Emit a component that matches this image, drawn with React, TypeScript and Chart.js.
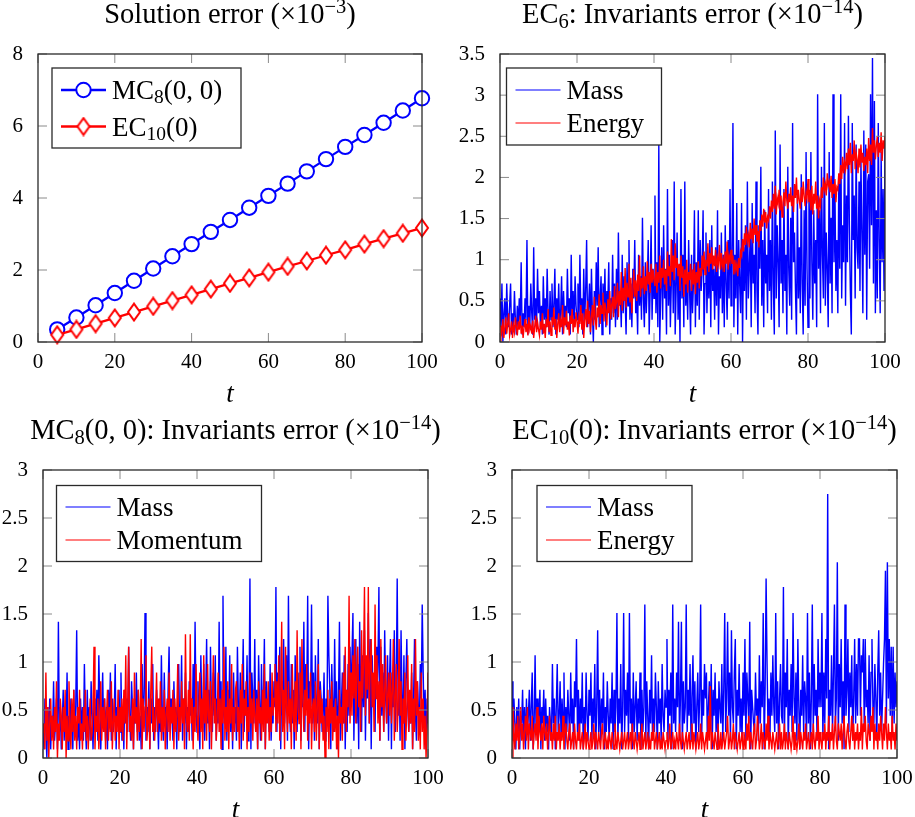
import React, { useEffect, useRef } from 'react';
import { Chart, registerables } from 'chart.js';

Chart.register(...registerables);

const W = 915;
const H = 817;
const FONT = '"Liberation Serif", "Times New Roman", serif';
const BLUE = '#0000ff';
const RED = '#ff0000';

// ---------- Panel 1: solution error ----------
const solT = [5, 10, 15, 20, 25, 30, 35, 40, 45, 50, 55, 60, 65, 70, 75, 80, 85, 90, 95, 100];
const mc8Err = [0.35, 0.68, 1.02, 1.36, 1.70, 2.04, 2.38, 2.72, 3.06, 3.39, 3.73, 4.06, 4.40, 4.74, 5.08, 5.42, 5.75, 6.09, 6.43, 6.77];
const ec10Err = [0.20, 0.35, 0.51, 0.67, 0.83, 0.99, 1.15, 1.31, 1.47, 1.63, 1.78, 1.94, 2.10, 2.25, 2.41, 2.56, 2.72, 2.87, 3.02, 3.17];

// ---------- invariants errors, sampled every STEP in t (0..100) ----------
const STEP = 0.25;

const ec6Mass = [
  0.53, 0.18, 0.71, 0.00, 0.35, 0.53, 0.09, 0.71, 0.27, 0.18, 0.44, 0.71, 0.09, 0.35, 0.18, 0.62, 0.27, 0.09, 0.44, 0.18,
  0.53, 0.27, 0.97, 0.09, 0.35, 0.18, 0.53, 0.27, 1.24, 0.09, 0.44, 0.18, 0.71, 0.35, 0.09, 1.15, 0.27, 0.53, 0.18, 0.89, 0.35,
  0.62, 0.18, 0.44, 0.09, 0.80, 0.27, 0.53, 0.18, 0.89, 0.35, 0.09, 0.62, 0.27, 0.71, 0.18, 0.44, 0.89, 0.09, 0.53, 0.27,
  0.71, 0.18, 0.35, 0.80, 0.09, 0.62, 0.27, 0.44, 0.18, 0.89, 0.35, 0.53, 0.09, 1.06, 0.27, 0.62, 0.18, 0.80, 0.44, 0.27,
  0.71, 0.18, 1.06, 0.35, 0.53, 0.09, 0.89, 0.27, 0.62, 1.24, 0.18, 0.44, 0.71, 0.09, 0.89, 0.35, 0.00, 0.62, 0.27, 0.97,
  0.44, 1.15, 0.18, 0.53, 0.80, 0.09, 0.71, 0.35, 0.89, 0.18, 0.62, 0.44, 0.97, 0.09, 0.53, 0.27, 1.06, 0.35, 0.71, 0.18,
  0.89, 0.27, 1.33, 0.44, 0.62, 0.18, 1.06, 0.35, 0.80, 0.53, 0.09, 0.97, 0.44, 1.24, 0.27, 0.71, 0.18, 0.89, 0.53, 1.24,
  0.35, 0.62, 0.09, 1.06, 0.44, 0.80, 0.27, 1.51, 0.53, 0.18, 0.97, 0.35, 0.71, 1.24, 0.09, 0.62, 1.42, 0.27, 0.89, 0.53,
  1.78, 0.35, 0.97, 0.18, 2.40, 0.00, 0.62, 1.15, 0.27, 1.42, 0.53, 0.89, 0.09, 1.86, 0.44, 1.06, 0.18, 0.71, 1.24, 0.35,
  1.95, 0.09, 0.62, 1.33, 0.27, 0.89, 0.00, 1.86, 0.53, 1.06, 0.18, 1.95, 0.44, 0.80, 0.27, 1.24, 0.62, 0.09, 1.06, 0.35,
  0.71, 1.60, 0.18, 0.97, 0.44, 1.60, 0.27, 1.24, 0.62, 0.89, 1.60, 0.09, 0.71, 1.33, 0.35, 0.97, 0.53, 1.24, 0.18, 1.42,
  0.62, 0.89, 0.27, 1.15, 0.44, 1.60, 0.09, 0.80, 0.53, 1.33, 0.35, 1.06, 0.18, 1.42, 0.71, 0.27, 1.24, 0.53, 1.86, 0.44,
  0.97, 2.66, 0.18, 1.06, 0.53, 1.69, 0.09, 1.24, 0.71, 0.35, 1.69, 0.00, 1.15, 0.62, 1.42, 0.27, 1.95, 0.53, 0.89, 1.33,
  0.18, 1.69, 0.71, 1.06, 0.35, 1.95, 0.62, 0.09, 1.42, 0.89, 2.13, 0.44, 1.24, 0.18, 1.60, 0.71, 1.06, 0.35, 1.86, 0.62,
  1.24, 0.27, 1.95, 0.71, 0.09, 2.57, 0.53, 1.42, 0.97, 0.18, 2.40, 0.71, 1.24, 0.35, 1.86, 0.62, 1.06, 0.09, 2.13, 0.89,
  0.44, 1.51, 0.27, 2.66, 0.97, 1.33, 0.62, 0.09, 1.78, 0.53, 1.15, 0.35, 2.04, 0.71, 0.09, 1.60, 0.44, 2.31, 0.89, 0.18,
  1.78, 0.53, 2.31, 0.97, 0.27, 1.60, 0.71, 1.24, 0.18, 3.01, 0.89, 1.60, 0.35, 2.13, 1.06, 0.53, 2.66, 0.44, 1.33, 0.89,
  0.18, 2.31, 0.71, 1.51, 0.35, 3.01, 0.97, 1.86, 0.62, 1.24, 0.35, 2.04, 0.89, 3.01, 0.53, 1.42, 0.97, 2.66, 0.44, 1.78,
  0.97, 2.75, 1.42, 0.62, 0.09, 2.66, 1.24, 1.78, 0.53, 2.40, 1.15, 0.89, 1.95, 0.62, 2.22, 1.33, 0.35, 2.57, 1.06, 2.40,
  0.27, 1.95, 2.04, 0.89, 3.01, 1.42, 3.45, 0.71, 2.93, 0.35, 1.60, 0.53, 2.66, 1.24, 0.35, 2.31, 0.97, 1.86, 0.62, 2.40,
];
const ec6Energy = [
  0.00, 0.20, 0.12, 0.28, 0.05, 0.18, 0.30, 0.10, 0.22, 0.35, 0.08, 0.15, 0.25, 0.05, 0.20, 0.12, 0.30, 0.18, 0.08, 0.25,
  0.15, 0.32, 0.10, 0.20, 0.05, 0.18, 0.28, 0.12, 0.22, 0.08, 0.30, 0.15, 0.20, 0.10, 0.26, 0.05, 0.18, 0.32, 0.12, 0.24, 0.15,
  0.08, 0.25, 0.15, 0.35, 0.10, 0.22, 0.05, 0.28, 0.18, 0.40, 0.12, 0.25, 0.08, 0.30, 0.20, 0.42, 0.15, 0.28, 0.05, 0.22,
  0.35, 0.12, 0.26, 0.18, 0.45, 0.10, 0.30, 0.20, 0.38, 0.15, 0.25, 0.08, 0.32, 0.22, 0.40, 0.12, 0.28, 0.18, 0.36, 0.25,
  0.10, 0.30, 0.22, 0.45, 0.15, 0.35, 0.05, 0.28, 0.40, 0.18, 0.50, 0.22, 0.38, 0.12, 0.30, 0.45, 0.20, 0.55, 0.28, 0.15,
  0.42, 0.30, 0.58, 0.22, 0.45, 0.35, 0.60, 0.25, 0.48, 0.38, 0.20, 0.52, 0.35, 0.62, 0.28, 0.45, 0.55, 0.30, 0.68, 0.40,
  0.48, 0.72, 0.30, 0.62, 0.45, 0.85, 0.38, 0.66, 0.50, 0.90, 0.42, 0.72, 0.55, 0.95, 0.48, 0.78, 0.35, 0.62, 0.88, 0.55,
  0.75, 0.50, 0.82, 0.62, 1.05, 0.55, 0.78, 0.65, 0.92, 0.58, 0.80, 0.62, 0.98, 0.70, 0.85, 0.60, 0.95, 0.72, 0.88, 0.75,
  0.68, 0.95, 0.60, 0.85, 0.72, 1.05, 0.65, 0.90, 0.78, 1.00, 0.70, 0.88, 0.62, 1.10, 0.80, 0.92, 0.68, 1.25, 0.85, 1.05,
  0.75, 1.20, 0.90, 1.02, 0.80, 0.95, 0.62, 1.05, 0.78, 0.92, 0.55, 0.88, 0.70, 1.00, 0.60, 0.85, 0.75, 0.95, 0.62, 0.88,
  0.70, 0.95, 0.58, 0.85, 0.72, 0.98, 0.65, 0.90, 0.80, 1.05, 0.88, 1.10, 0.82, 1.00, 0.92, 1.20, 0.85, 1.08, 0.95, 1.15,
  0.88, 1.05, 0.92, 1.12, 0.85, 1.02, 0.95, 1.18, 0.88, 1.08, 0.92, 1.00, 0.85, 1.10, 0.95, 1.22, 0.88, 1.05, 0.98, 1.12,
  0.95, 1.05, 0.82, 1.00, 0.88, 0.95, 0.80, 1.02, 0.90, 1.10, 1.05, 1.25, 1.10, 1.32, 1.18, 1.40, 1.22, 1.30, 1.15, 1.45,
  1.25, 1.38, 1.20, 1.50, 1.30, 1.42, 1.22, 1.35, 1.15, 1.48, 1.35, 1.55, 1.40, 1.62, 1.45, 1.58, 1.38, 1.52, 1.48, 1.65,
  1.50, 1.72, 1.58, 1.80, 1.62, 1.90, 1.55, 1.75, 1.68, 1.85, 1.60, 1.78, 1.52, 1.70, 1.82, 1.65, 1.95, 1.72, 1.62, 1.80,
  1.70, 1.88, 1.65, 1.78, 1.58, 1.92, 1.75, 2.00, 1.68, 1.85, 1.72, 1.62, 1.88, 1.70, 1.95, 1.78, 1.65, 1.82, 1.75, 1.98,
  1.70, 1.85, 1.60, 1.90, 1.55, 1.80, 1.68, 1.95, 1.62, 1.78, 1.50, 1.72, 1.65, 1.88, 1.75, 2.00, 1.85, 1.92, 1.78, 2.05,
  1.90, 1.95, 1.82, 2.02, 1.75, 1.92, 1.80, 1.98, 1.70, 1.88, 1.85, 2.05, 1.92, 2.15, 1.98, 2.25, 2.05, 2.18, 2.10, 2.30,
  2.10, 2.35, 2.15, 2.42, 2.05, 2.28, 2.20, 2.45, 2.10, 2.30, 2.22, 2.05, 2.35, 2.12, 2.40, 2.18, 2.30, 2.08, 2.25, 2.15,
  2.35, 2.05, 2.48, 2.20, 2.40, 2.15, 2.60, 2.30, 2.45, 2.22, 2.38, 2.50, 2.25, 2.42, 2.30, 2.55, 2.20, 2.45, 2.35, 2.50,
];

const mc8Mass = [
  0.36, 0.09, 0.62, 0.27, 0.00, 0.53, 0.18, 0.62, 0.09, 0.44, 0.27, 0.80, 0.18, 0.36, 0.62, 0.09, 1.42, 0.27, 0.53, 0.09,
  0.36, 0.71, 0.18, 0.53, 0.27, 0.89, 0.09, 0.44, 0.18, 0.62, 0.36, 0.09, 0.71, 0.27, 0.53, 1.33, 0.18, 0.44, 0.09, 0.62, 0.27,
  0.53, 0.18, 0.98, 0.36, 0.09, 0.71, 0.27, 0.53, 0.18, 0.80, 0.44, 0.09, 0.62, 0.27, 0.36, 0.71, 0.18, 1.07, 0.53, 0.09,
  0.44, 0.89, 0.27, 0.62, 0.18, 0.53, 0.09, 0.71, 0.36, 0.89, 0.18, 0.62, 0.27, 0.44, 0.98, 0.09, 0.53, 0.36, 0.71, 0.27,
  0.89, 0.18, 0.53, 0.09, 0.71, 0.36, 0.62, 0.27, 1.16, 0.44, 0.18, 0.80, 0.53, 0.09, 0.62, 0.36, 0.89, 0.27, 0.71, 0.18,
  0.44, 0.09, 0.98, 0.36, 0.62, 1.51, 0.18, 0.53, 0.27, 0.80, 0.09, 0.62, 0.36, 0.98, 0.18, 0.53, 0.27, 0.71, 0.44, 0.09,
  0.62, 0.27, 1.07, 0.44, 0.18, 0.89, 0.36, 0.53, 0.09, 0.71, 1.16, 0.27, 0.62, 0.44, 0.18, 0.80, 0.36, 0.53, 0.09, 0.71,
  0.98, 0.27, 0.44, 1.07, 0.18, 0.62, 0.36, 0.89, 0.09, 0.53, 0.27, 0.80, 0.44, 0.62, 0.18, 0.98, 0.36, 1.42, 0.53, 0.27,
  0.80, 0.36, 0.09, 1.07, 0.53, 0.27, 0.98, 0.18, 0.62, 1.24, 0.36, 0.71, 0.09, 1.16, 0.53, 0.27, 0.89, 0.44, 1.07, 0.18,
  0.62, 0.36, 1.42, 0.27, 0.80, 0.09, 1.69, 0.53, 0.36, 1.16, 0.18, 0.71, 0.44, 1.07, 0.27, 0.62, 0.09, 0.89, 0.36, 0.53,
  0.18, 1.16, 0.53, 0.36, 0.89, 0.09, 0.62, 1.24, 0.27, 0.71, 0.44, 1.07, 0.18, 0.53, 1.87, 0.09, 0.89, 0.62, 0.36, 1.24,
  0.27, 0.71, 0.09, 1.07, 0.53, 0.18, 0.98, 0.36, 0.62, 1.24, 0.09, 0.80, 0.44, 0.62, 0.27, 0.98, 0.18, 0.53, 0.36, 0.80,
  0.53, 1.78, 0.27, 0.89, 0.62, 1.16, 0.09, 0.80, 0.44, 1.24, 0.36, 0.62, 1.07, 0.18, 1.69, 0.53, 0.27, 0.98, 0.36, 0.71,
  0.09, 1.07, 0.62, 0.27, 0.89, 0.44, 1.16, 0.18, 0.71, 0.53, 1.42, 0.27, 0.98, 0.62, 1.69, 0.09, 0.80, 0.53, 1.60, 0.36,
  0.89, 0.18, 1.07, 0.53, 0.36, 1.24, 0.09, 0.80, 0.62, 0.27, 0.44, 0.89, 0.18, 0.62, 0.36, 1.69, 1.07, 0.71, 0.09, 0.98,
  0.53, 0.27, 1.24, 0.44, 0.80, 0.09, 0.62, 1.42, 0.18, 0.53, 0.89, 0.36, 1.07, 0.09, 0.71, 0.27, 0.98, 0.44, 1.16, 0.62,
  0.62, 1.51, 0.18, 0.89, 1.24, 0.36, 0.98, 0.09, 1.42, 0.71, 0.27, 1.07, 0.53, 1.33, 0.18, 0.89, 0.62, 1.51, 0.36, 1.24,
  0.09, 1.07, 0.53, 0.80, 0.27, 1.16, 0.62, 0.98, 1.78, 0.18, 1.16, 0.44, 0.89, 0.27, 1.33, 0.62, 0.36, 1.07, 0.18, 0.80,
  1.24, 0.09, 0.89, 0.53, 1.33, 0.27, 0.71, 1.87, 0.44, 0.98, 0.18, 1.33, 0.62, 0.36, 1.07, 0.09, 0.80, 1.24, 0.53, 0.27,
  0.53, 0.36, 0.89, 0.09, 0.62, 1.24, 0.44, 0.18, 0.80, 0.53, 0.27, 0.98, 0.62, 1.60, 0.89, 0.36, 0.71, 0.09, 0.62, 0.36,
];
const mc8Momentum = [
  0.27, 0.36, 0.09, 0.89, 0.18, 0.53, 0.00, 0.36, 0.62, 0.18, 0.44, 0.09, 0.53, 0.27, 0.80, 0.00, 0.36, 0.18, 0.62, 0.44,
  0.09, 0.53, 0.27, 0.71, 0.00, 0.44, 0.18, 0.80, 0.36, 0.09, 0.62, 0.27, 0.71, 0.18, 0.44, 0.09, 0.53, 0.36, 0.71, 0.18, 0.36,
  0.09, 0.53, 0.27, 0.71, 0.18, 0.44, 0.09, 0.36, 0.62, 0.18, 0.27, 0.53, 1.16, 0.09, 0.44, 0.27, 0.62, 0.09, 0.36, 0.80,
  0.18, 0.53, 0.27, 0.62, 0.09, 0.44, 0.71, 0.18, 0.53, 0.27, 0.80, 0.09, 0.36, 0.62, 0.18, 0.44, 0.27, 0.71, 0.09, 0.53,
  0.27, 0.62, 0.18, 0.71, 0.36, 1.07, 0.09, 0.53, 1.16, 0.27, 0.44, 0.18, 0.62, 0.09, 0.89, 0.36, 0.53, 0.18, 0.71, 0.27,
  0.44, 1.24, 0.09, 0.62, 0.27, 0.53, 1.07, 0.18, 0.36, 0.62, 0.09, 0.71, 1.16, 0.27, 0.53, 0.18, 0.44, 0.89, 0.27, 0.62,
  0.36, 0.80, 0.18, 0.53, 0.27, 0.71, 0.09, 0.44, 0.62, 0.27, 0.89, 0.18, 0.53, 0.36, 0.71, 0.09, 0.62, 0.27, 0.44, 0.98,
  0.18, 0.53, 0.27, 0.80, 0.36, 0.62, 0.09, 1.29, 0.44, 0.27, 0.71, 0.18, 1.29, 0.36, 0.62, 0.09, 0.53, 0.27, 0.98, 0.44,
  0.18, 0.53, 0.89, 0.27, 0.62, 0.09, 1.07, 0.36, 0.71, 0.18, 0.98, 0.44, 0.27, 0.80, 0.09, 0.53, 1.07, 0.36, 0.62, 0.18,
  0.44, 0.89, 0.27, 0.62, 0.09, 0.71, 0.36, 1.16, 0.18, 0.53, 0.27, 0.80, 0.09, 0.62, 0.36, 0.98, 0.18, 0.53, 0.27, 0.71,
  0.80, 0.27, 0.53, 0.09, 0.71, 0.36, 0.98, 0.18, 0.62, 0.44, 0.80, 0.09, 0.53, 0.27, 0.89, 0.36, 0.62, 0.18, 0.71, 0.44,
  0.27, 0.62, 0.09, 0.80, 0.36, 0.53, 0.18, 0.71, 0.27, 0.98, 0.09, 0.62, 0.36, 0.80, 0.18, 0.53, 0.27, 0.89, 0.44, 0.62,
  0.98, 0.27, 0.80, 0.36, 1.07, 0.18, 0.62, 1.42, 0.27, 0.71, 0.09, 1.16, 0.53, 0.27, 0.80, 0.36, 0.62, 0.09, 0.98, 0.44,
  0.27, 0.80, 0.18, 1.33, 0.53, 0.36, 0.89, 0.09, 1.24, 0.62, 0.27, 0.71, 0.44, 0.98, 0.18, 0.62, 0.36, 0.89, 0.09, 0.53,
  0.62, 0.27, 0.80, 0.18, 0.53, 0.98, 0.09, 0.71, 0.36, 0.62, 0.18, 0.44, 0.00, 0.53, 0.27, 0.71, 0.09, 0.62, 0.36, 0.80,
  0.18, 0.53, 0.27, 0.62, 0.09, 0.44, 0.00, 0.71, 0.36, 0.53, 0.18, 0.89, 0.36, 1.16, 0.27, 0.71, 0.53, 1.69, 0.36, 0.89,
  0.44, 1.07, 0.62, 1.24, 0.36, 0.89, 1.16, 0.53, 0.80, 0.27, 1.33, 0.62, 0.98, 1.78, 0.44, 1.07, 0.71, 1.78, 0.36, 0.98,
  1.24, 0.53, 0.89, 0.27, 1.60, 0.62, 1.07, 0.36, 0.80, 0.18, 1.24, 0.53, 0.98, 0.27, 0.71, 1.07, 0.36, 0.62, 0.89, 0.44,
  0.89, 0.36, 0.71, 1.24, 0.18, 0.62, 0.98, 0.27, 0.53, 1.24, 0.44, 0.80, 0.09, 0.62, 0.36, 0.89, 0.18, 0.53, 1.07, 0.27,
  0.71, 0.36, 0.98, 0.09, 0.62, 0.27, 1.24, 0.44, 0.80, 0.18, 0.53, 0.09, 0.89, 0.27, 0.62, 0.09, 0.44, 0.00, 0.36, 0.89,
];

const ec10Mass = [
  0.80, 0.18, 0.62, 0.36, 0.09, 0.53, 0.27, 0.62, 0.09, 0.44, 0.36, 0.71, 0.18, 0.53, 0.09, 0.62, 0.27, 0.44, 0.71, 0.18,
  0.53, 0.89, 0.09, 0.36, 1.07, 0.27, 0.62, 0.18, 0.44, 0.71, 0.09, 0.53, 0.36, 0.71, 0.18, 0.62, 0.27, 0.44, 0.09, 0.53, 0.36,
  0.18, 0.98, 0.36, 0.62, 0.09, 0.53, 0.98, 0.27, 0.44, 0.80, 0.18, 0.62, 0.36, 0.89, 0.09, 0.53, 0.27, 0.71, 0.44, 0.18,
  0.89, 0.36, 0.62, 0.09, 0.80, 0.53, 1.24, 0.27, 0.71, 0.18, 0.62, 0.36, 0.89, 0.09, 0.53, 0.27, 0.89, 0.44, 0.18, 0.71,
  0.44, 0.89, 0.18, 0.62, 0.36, 0.98, 0.09, 0.53, 1.33, 0.27, 0.71, 0.18, 0.62, 0.36, 0.89, 0.09, 0.53, 0.27, 0.80, 0.44,
  0.18, 0.62, 0.36, 0.89, 0.09, 0.71, 0.27, 0.53, 1.51, 0.18, 0.62, 0.36, 0.98, 0.09, 0.53, 1.51, 0.27, 0.71, 0.44, 0.89,
  0.18, 1.51, 0.36, 0.62, 0.09, 0.89, 0.27, 0.53, 0.80, 0.18, 0.62, 0.36, 0.89, 0.09, 0.71, 0.27, 0.53, 1.60, 0.18, 0.80,
  0.44, 0.09, 0.71, 0.36, 1.07, 0.18, 0.62, 0.27, 0.89, 0.53, 0.09, 0.80, 0.36, 0.62, 0.18, 0.98, 0.44, 0.27, 0.71, 0.53,
  1.24, 0.18, 0.71, 0.44, 0.89, 0.09, 1.60, 0.36, 0.62, 0.27, 0.89, 0.53, 1.42, 0.18, 0.62, 1.42, 0.09, 0.80, 0.36, 0.53,
  1.60, 0.27, 0.71, 0.44, 0.98, 0.18, 0.62, 1.07, 0.36, 0.80, 0.09, 0.53, 0.89, 0.27, 0.62, 1.60, 0.18, 0.71, 0.44, 0.98,
  0.62, 0.89, 0.18, 0.53, 0.80, 0.36, 0.98, 0.09, 0.71, 0.44, 0.89, 0.27, 0.62, 0.09, 0.80, 0.53, 0.36, 0.98, 0.18, 0.71,
  1.51, 0.27, 0.62, 1.42, 0.44, 0.89, 0.18, 1.33, 0.53, 0.36, 0.89, 1.24, 0.09, 0.71, 0.44, 0.98, 0.27, 0.62, 0.18, 0.89,
  0.44, 1.24, 0.18, 0.89, 0.62, 0.36, 1.42, 0.09, 0.71, 0.53, 0.36, 0.27, 0.89, 0.44, 0.62, 0.18, 1.07, 0.36, 0.80, 0.53,
  1.51, 0.09, 0.71, 1.87, 0.98, 0.27, 0.62, 0.18, 0.89, 0.44, 1.07, 0.53, 0.27, 1.51, 0.36, 0.80, 0.09, 0.62, 0.98, 0.44,
  0.36, 1.78, 0.18, 0.89, 0.53, 1.24, 0.09, 0.71, 0.44, 0.98, 0.27, 1.51, 0.62, 0.36, 0.89, 0.18, 1.24, 0.53, 0.09, 0.71,
  0.44, 1.07, 0.27, 0.80, 0.62, 0.18, 1.51, 0.36, 0.89, 0.09, 0.62, 1.60, 0.27, 0.98, 0.44, 0.71, 0.18, 1.24, 0.53, 0.89,
  0.53, 1.51, 0.18, 0.89, 0.36, 1.24, 0.62, 2.75, 0.09, 0.71, 0.44, 1.07, 0.27, 0.89, 1.60, 0.36, 0.62, 2.04, 0.18, 0.98,
  0.53, 1.24, 0.36, 0.80, 0.09, 1.60, 0.44, 0.71, 1.24, 0.27, 0.89, 0.53, 1.07, 0.18, 0.62, 1.24, 0.36, 0.98, 0.44, 1.24,
  1.24, 0.44, 1.07, 0.89, 1.24, 0.27, 1.24, 0.53, 0.71, 0.36, 1.07, 0.18, 0.89, 1.24, 0.53, 0.36, 0.98, 0.62, 0.18, 0.89,
  1.33, 0.44, 0.89, 0.27, 0.62, 0.98, 1.24, 1.95, 0.36, 2.04, 0.62, 1.24, 0.44, 1.16, 0.27, 1.16, 0.36, 0.89, 0.53, 0.80,
];
const ec10Energy = [
  0.00, 0.53, 0.27, 0.09, 0.36, 0.18, 0.44, 0.09, 0.27, 0.53, 0.18, 0.36, 0.09, 0.27, 0.44, 0.18, 0.53, 0.09, 0.36, 0.27,
  0.18, 0.44, 0.09, 0.27, 0.36, 0.18, 0.53, 0.09, 0.44, 0.27, 0.18, 0.36, 0.09, 0.44, 0.27, 0.18, 0.36, 0.09, 0.27, 0.44, 0.18,
  0.27, 0.09, 0.36, 0.18, 0.44, 0.09, 0.27, 0.18, 0.36, 0.09, 0.27, 0.18, 0.44, 0.09, 0.27, 0.36, 0.18, 0.09, 0.27, 0.36,
  0.09, 0.18, 0.27, 0.09, 0.36, 0.18, 0.09, 0.27, 0.18, 0.36, 0.09, 0.18, 0.27, 0.09, 0.18, 0.36, 0.09, 0.27, 0.18, 0.09,
  0.18, 0.27, 0.09, 0.18, 0.36, 0.09, 0.27, 0.18, 0.09, 0.27, 0.18, 0.09, 0.27, 0.36, 0.09, 0.18, 0.27, 0.09, 0.18, 0.09,
  0.27, 0.18, 0.09, 0.27, 0.18, 0.09, 0.36, 0.18, 0.09, 0.27, 0.18, 0.09, 0.18, 0.27, 0.09, 0.18, 0.27, 0.09, 0.18, 0.27,
  0.09, 0.18, 0.27, 0.09, 0.36, 0.18, 0.09, 0.27, 0.18, 0.09, 0.18, 0.27, 0.09, 0.18, 0.36, 0.09, 0.18, 0.27, 0.09, 0.18,
  0.27, 0.09, 0.18, 0.09, 0.27, 0.18, 0.36, 0.09, 0.18, 0.27, 0.09, 0.18, 0.27, 0.09, 0.18, 0.09, 0.27, 0.18, 0.09, 0.18,
  0.27, 0.09, 0.18, 0.36, 0.09, 0.18, 0.27, 0.09, 0.18, 0.09, 0.27, 0.18, 0.09, 0.36, 0.18, 0.09, 0.27, 0.18, 0.09, 0.18,
  0.27, 0.09, 0.18, 0.27, 0.09, 0.18, 0.36, 0.09, 0.27, 0.18, 0.09, 0.18, 0.27, 0.09, 0.18, 0.36, 0.09, 0.27, 0.18, 0.09,
  0.18, 0.27, 0.09, 0.44, 0.18, 0.75, 0.09, 0.27, 0.18, 0.09, 0.27, 0.18, 0.09, 0.36, 0.18, 0.09, 0.27, 0.09, 0.18, 0.27,
  0.09, 0.18, 0.27, 0.44, 0.09, 0.18, 0.27, 0.09, 0.18, 0.36, 0.09, 0.27, 0.18, 0.09, 0.18, 0.27, 0.09, 0.18, 0.27, 0.09,
  0.27, 0.18, 0.09, 0.36, 0.18, 0.44, 0.09, 0.27, 0.18, 0.09, 0.27, 0.36, 0.09, 0.18, 0.44, 0.27, 0.09, 0.18, 0.36, 0.09,
  0.27, 0.18, 0.09, 0.36, 0.18, 0.44, 0.09, 0.27, 0.18, 0.09, 0.27, 0.18, 0.09, 0.18, 0.27, 0.09, 0.18, 0.36, 0.09, 0.27,
  0.09, 0.18, 0.36, 0.09, 0.27, 0.18, 0.09, 0.27, 0.18, 0.09, 0.18, 0.44, 0.09, 0.27, 0.18, 0.09, 0.18, 0.36, 0.09, 0.27,
  0.18, 0.09, 0.27, 0.18, 0.36, 0.09, 0.18, 0.27, 0.09, 0.18, 0.27, 0.09, 0.36, 0.18, 0.09, 0.27, 0.18, 0.44, 0.09, 0.27,
  0.18, 0.09, 0.27, 0.18, 0.36, 0.09, 0.27, 0.18, 0.44, 0.09, 0.27, 0.18, 0.36, 0.09, 0.27, 0.44, 0.18, 0.09, 0.36, 0.27,
  0.18, 0.36, 0.09, 0.27, 0.44, 0.18, 0.09, 0.27, 0.36, 0.18, 0.09, 0.27, 0.44, 0.18, 0.36, 0.09, 0.27, 0.18, 0.36, 0.09,
  0.27, 0.18, 0.53, 0.09, 0.36, 0.27, 0.44, 0.18, 0.09, 0.36, 0.27, 0.18, 0.44, 0.27, 0.53, 0.09, 0.36, 0.18, 0.27, 0.09,
  0.36, 0.18, 0.44, 0.27, 0.09, 0.36, 0.18, 0.53, 0.27, 0.09, 0.36, 0.18, 0.27, 0.09, 0.44, 0.18, 0.27, 0.09, 0.36, 0.18,
];

// ---------- ticks ----------
const xTicks = [0, 20, 40, 60, 80, 100];
const yTicksSol = [0, 2, 4, 6, 8];
const yTicksEC6 = [0, 0.5, 1, 1.5, 2, 2.5, 3, 3.5];
const yTicksInv = [0, 0.5, 1, 1.5, 2, 2.5, 3];

type Seg = { t: string; s?: 'sub' | 'sup' };
type Marker = 'circle' | 'diamond' | null;
interface Series {
  label: Seg[];
  color: string;
  width: number;
  marker: Marker;
  xs: number[];
  ys: number[];
}
interface PanelSpec {
  area: { l: number; t: number; r: number; b: number };
  yw: number;
  yMax: number;
  yTicks: number[];
  title: Seg[];
  legend: { dx: number; dy: number; w: number; h: number; rows: number[] };
  series: Series[];
}

const stepXs = (n: number) => Array.from({ length: n }, (_, i) => i * STEP);
const INV_W = 1.4;

const PANELS: PanelSpec[] = [
  {
    area: { l: 38, t: 54, r: 422, b: 342 },
    yw: 30,
    yMax: 8,
    yTicks: yTicksSol,
    title: [{ t: 'Solution error (×10' }, { t: '−3', s: 'sup' }, { t: ')' }],
    legend: { dx: 14, dy: 14, w: 189, h: 80, rows: [22, 58.5] },
    series: [
      { label: [{ t: 'MC' }, { t: '8', s: 'sub' }, { t: '(0, 0)' }], color: BLUE, width: 2.3, marker: 'circle', xs: solT, ys: mc8Err },
      { label: [{ t: 'EC' }, { t: '10', s: 'sub' }, { t: '(0)' }], color: RED, width: 2.3, marker: 'diamond', xs: solT, ys: ec10Err },
    ],
  },
  {
    area: { l: 500, t: 54, r: 885, b: 342 },
    yw: 42,
    yMax: 3.5,
    yTicks: yTicksEC6,
    title: [{ t: 'EC' }, { t: '6', s: 'sub' }, { t: ': Invariants error (×10' }, { t: '−14', s: 'sup' }, { t: ')' }],
    legend: { dx: 6.5, dy: 14, w: 155, h: 77, rows: [22, 55] },
    series: [
      { label: [{ t: 'Mass' }], color: BLUE, width: INV_W, marker: null, xs: stepXs(ec6Mass.length), ys: ec6Mass },
      { label: [{ t: 'Energy' }], color: RED, width: INV_W, marker: null, xs: stepXs(ec6Energy.length), ys: ec6Energy },
    ],
  },
  {
    area: { l: 43, t: 470, r: 428, b: 758 },
    yw: 42,
    yMax: 3,
    yTicks: yTicksInv,
    title: [{ t: 'MC' }, { t: '8', s: 'sub' }, { t: '(0, 0): Invariants error (×10' }, { t: '−14', s: 'sup' }, { t: ')' }],
    legend: { dx: 13.5, dy: 15.5, w: 205, h: 76, rows: [21.5, 54.5] },
    series: [
      { label: [{ t: 'Mass' }], color: BLUE, width: INV_W, marker: null, xs: stepXs(mc8Mass.length), ys: mc8Mass },
      { label: [{ t: 'Momentum' }], color: RED, width: INV_W, marker: null, xs: stepXs(mc8Momentum.length), ys: mc8Momentum },
    ],
  },
  {
    area: { l: 512, t: 470, r: 897, b: 758 },
    yw: 42,
    yMax: 3,
    yTicks: yTicksInv,
    title: [{ t: 'EC' }, { t: '10', s: 'sub' }, { t: '(0): Invariants error (×10' }, { t: '−14', s: 'sup' }, { t: ')' }],
    legend: { dx: 25, dy: 15.5, w: 155, h: 76, rows: [21.5, 54.5] },
    series: [
      { label: [{ t: 'Mass' }], color: BLUE, width: INV_W, marker: null, xs: stepXs(ec10Mass.length), ys: ec10Mass },
      { label: [{ t: 'Energy' }], color: RED, width: INV_W, marker: null, xs: stepXs(ec10Energy.length), ys: ec10Energy },
    ],
  },
];

const TITLE_SIZE = 28.5;
const LEGEND_SIZE = 27;
const TICK_SIZE = 21;
const X_AXIS_H = 66;
const TICK_LEN = 9;

function segFont(s: Seg, size: number) {
  return `${s.s ? size * 0.72 : size}px ${FONT}`;
}
function richWidth(ctx: CanvasRenderingContext2D, segs: Seg[], size: number) {
  let w = 0;
  for (const s of segs) {
    ctx.font = segFont(s, size);
    w += ctx.measureText(s.t).width;
  }
  return w;
}
function drawRich(ctx: CanvasRenderingContext2D, segs: Seg[], x: number, y: number, size: number, center: boolean) {
  let cx = center ? x - richWidth(ctx, segs, size) / 2 : x;
  ctx.textAlign = 'left';
  ctx.textBaseline = 'alphabetic';
  ctx.fillStyle = '#000';
  for (const s of segs) {
    ctx.font = segFont(s, size);
    const dy = s.s === 'sub' ? size * 0.16 : s.s === 'sup' ? -size * 0.36 : 0;
    ctx.fillText(s.t, cx, y + dy);
    cx += ctx.measureText(s.t).width;
  }
}

function makeDiamond(color: string) {
  const c = document.createElement('canvas');
  c.width = 16;
  c.height = 20;
  const g = c.getContext('2d')!;
  g.beginPath();
  g.moveTo(8, 1.6);
  g.lineTo(14, 10);
  g.lineTo(8, 18.4);
  g.lineTo(2, 10);
  g.closePath();
  g.fillStyle = '#fff';
  g.fill();
  g.lineWidth = 2;
  g.strokeStyle = color;
  g.stroke();
  return c;
}

function buildConfig(spec: PanelSpec): any {
  const diamonds: Record<string, HTMLCanvasElement> = {};
  const getDiamond = (c: string) => (diamonds[c] = diamonds[c] || makeDiamond(c));

  const datasets = spec.series.map((s, i) => {
    const base: any = {
      data: s.ys.map((y, j) => ({ x: s.xs[j], y })),
      borderColor: s.color,
      borderWidth: s.width,
      tension: 0,
      fill: false,
      order: spec.series.length - i,
    };
    if (s.marker === 'circle') {
      Object.assign(base, {
        pointStyle: 'circle', pointRadius: 7.2, pointBorderWidth: 2,
        pointBackgroundColor: '#fff', pointBorderColor: s.color, clip: false,
      });
    } else if (s.marker === 'diamond') {
      Object.assign(base, {
        pointStyle: getDiamond(s.color), pointRadius: 7,
        pointBackgroundColor: '#fff', pointBorderColor: s.color, clip: false,
      });
    } else {
      Object.assign(base, { pointRadius: 0 });
    }
    return base;
  });

  const deco = {
    id: 'deco',
    afterDatasetsDraw(chart: any) {
      const ctx: CanvasRenderingContext2D = chart.ctx;
      const { left, right, top, bottom } = chart.chartArea;
      const xs = chart.scales.x;
      const ys = chart.scales.y;
      ctx.save();
      ctx.strokeStyle = '#8a8a8a';
      ctx.lineWidth = 1;
      ctx.beginPath();
      for (const v of xTicks) {
        const px = xs.getPixelForValue(v);
        ctx.moveTo(px, bottom);
        ctx.lineTo(px, bottom - TICK_LEN);
        ctx.moveTo(px, top);
        ctx.lineTo(px, top + TICK_LEN);
      }
      for (const v of spec.yTicks) {
        const py = ys.getPixelForValue(v);
        ctx.moveTo(left, py);
        ctx.lineTo(left + TICK_LEN, py);
        ctx.moveTo(right, py);
        ctx.lineTo(right - TICK_LEN, py);
      }
      ctx.stroke();
      ctx.strokeStyle = '#2a2a2a';
      ctx.lineWidth = 1.3;
      ctx.strokeRect(left, top, right - left, bottom - top);
      ctx.restore();
    },
    afterDraw(chart: any) {
      const ctx: CanvasRenderingContext2D = chart.ctx;
      const { left, right, top } = chart.chartArea;
      ctx.save();
      drawRich(ctx, spec.title, (left + right) / 2, top - 31, TITLE_SIZE, true);
      const L = spec.legend;
      const bx = left + L.dx;
      const by = top + L.dy;
      ctx.fillStyle = '#fff';
      ctx.fillRect(bx, by, L.w, L.h);
      ctx.strokeStyle = '#2a2a2a';
      ctx.lineWidth = 1.3;
      ctx.strokeRect(bx, by, L.w, L.h);
      spec.series.forEach((s, i) => {
        const ry = by + L.rows[i];
        const x0 = bx + 9;
        const x1 = bx + 54;
        ctx.strokeStyle = s.color;
        ctx.lineWidth = s.marker ? s.width : 1.1;
        ctx.beginPath();
        ctx.moveTo(x0, ry);
        ctx.lineTo(x1, ry);
        ctx.stroke();
        const mx = (x0 + x1) / 2;
        if (s.marker === 'circle') {
          ctx.beginPath();
          ctx.arc(mx, ry, 7.2, 0, Math.PI * 2);
          ctx.fillStyle = '#fff';
          ctx.fill();
          ctx.lineWidth = 2;
          ctx.stroke();
        } else if (s.marker === 'diamond') {
          const img = getDiamond(s.color);
          ctx.drawImage(img, mx - img.width / 2, ry - img.height / 2);
        }
        drawRich(ctx, s.label, bx + 60, ry + 9, LEGEND_SIZE, false);
      });
      ctx.restore();
    },
  };

  const tickFont = { family: FONT, size: TICK_SIZE, lineHeight: 1.2 };

  return {
    type: 'line',
    data: { datasets },
    options: {
      animation: false,
      responsive: false,
      events: [],
      layout: {
        padding: {
          left: spec.area.l - spec.yw,
          top: spec.area.t,
          right: W - spec.area.r,
          bottom: H - spec.area.b - X_AXIS_H,
        },
      },
      plugins: {
        legend: { display: false },
        title: { display: false },
        tooltip: { enabled: false },
      },
      scales: {
        x: {
          type: 'linear',
          min: 0,
          max: 100,
          afterBuildTicks: (s: any) => {
            s.ticks = xTicks.map((v) => ({ value: v }));
          },
          afterFit: (s: any) => {
            s.height = X_AXIS_H;
          },
          grid: { display: false },
          border: { display: false },
          ticks: {
            font: tickFont, color: '#000', padding: 0, maxRotation: 0, autoSkip: false,
            callback: (v: any) => String(v),
          },
          title: {
            display: true,
            text: 't',
            color: '#000',
            font: { family: FONT, size: 27, style: 'italic', lineHeight: 1 },
            padding: { top: 0, bottom: 0 },
          },
        },
        y: {
          type: 'linear',
          min: 0,
          max: spec.yMax,
          afterBuildTicks: (s: any) => {
            s.ticks = spec.yTicks.map((v) => ({ value: v }));
          },
          afterFit: (s: any) => {
            s.width = spec.yw;
          },
          grid: { display: false },
          border: { display: false },
          ticks: {
            font: tickFont, color: '#000', padding: 7, autoSkip: false,
            callback: (v: any) => String(v),
          },
        },
      },
    },
    plugins: [deco],
  };
}

function Panel({ spec }: { spec: PanelSpec }) {
  const ref = useRef<HTMLCanvasElement>(null);
  useEffect(() => {
    if (!ref.current) return;
    const chart = new Chart(ref.current, buildConfig(spec));
    return () => chart.destroy();
  }, [spec]);
  return (
    <canvas
      ref={ref}
      width={W}
      height={H}
      style={{ position: 'absolute', left: 0, top: 0, width: W, height: H }}
    />
  );
}

export default function App() {
  return (
    <div style={{ position: 'absolute', left: 0, top: 0, width: W, height: H, background: '#fff' }}>
      {PANELS.map((p, i) => (
        <Panel key={i} spec={p} />
      ))}
    </div>
  );
}
